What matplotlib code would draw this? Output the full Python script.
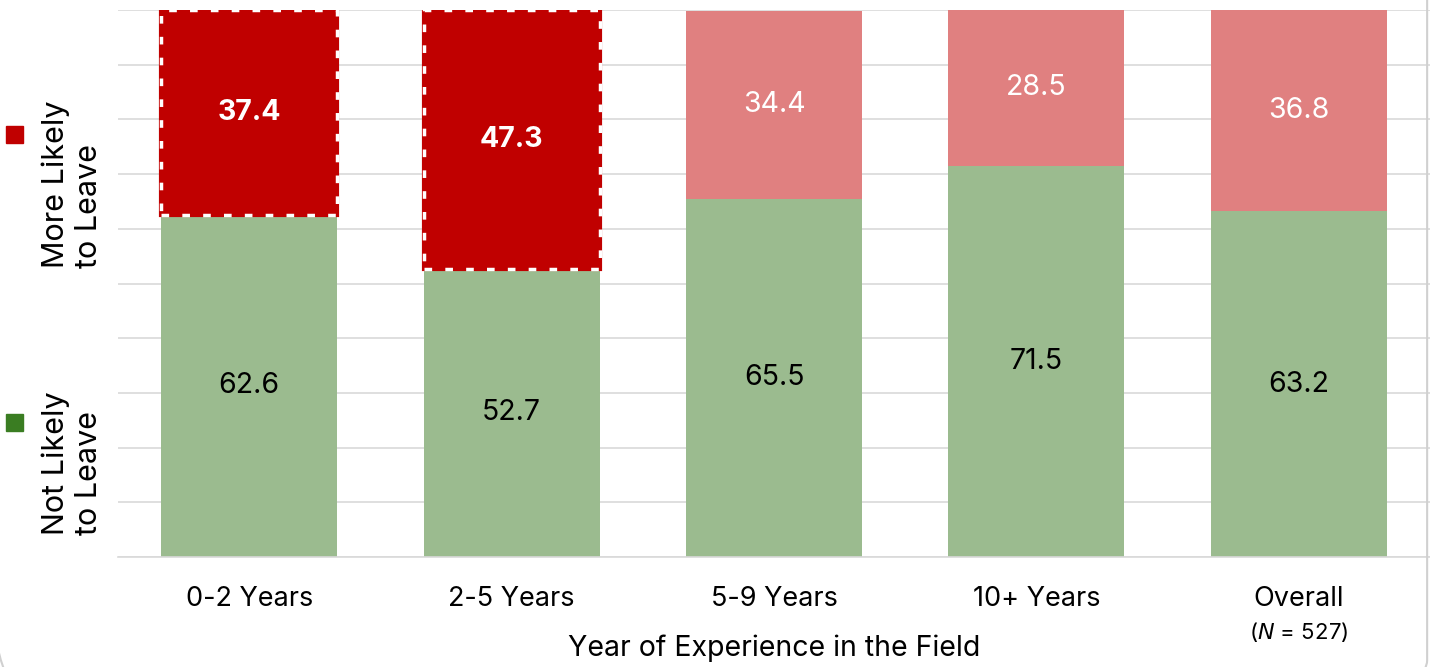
import numpy as np
import matplotlib.pyplot as plt
from matplotlib.patches import FancyBboxPatch, Rectangle

plt.rcParams['font.family'] = ['Inter', 'DejaVu Sans']

# data
groups = ['0-2 Years', '2-5 Years', '5-9 Years', '10+ Years', 'Overall']
not_likely = [62.6, 52.7, 65.5, 71.5, 63.2]
more_likely = [37.4, 47.3, 34.4, 28.5, 36.8]
highlight = [True, True, False, False, False]

green = '#9BBB8F'
red_dark = '#C00000'
red_light = '#E08080'

fig = plt.figure(figsize=(14.3, 6.67), dpi=100)
ax = fig.add_axes([118/1430, 1 - 557/667, 1 - 118/1430, 547/667])

x = np.arange(len(groups))
w = 0.67
ax.bar(x, not_likely, w, color=green, zorder=2)
for i in range(len(groups)):
    if highlight[i]:
        ax.bar(x[i], more_likely[i], w, bottom=not_likely[i], color=red_dark,
               edgecolor=red_dark, linewidth=3, zorder=3)
        ax.bar(x[i], more_likely[i], w, bottom=not_likely[i], fill=False,
               edgecolor='white', linewidth=2.5, linestyle=(0, (2.2, 3.8)), zorder=4)
    else:
        ax.bar(x[i], more_likely[i], w, bottom=not_likely[i], color=red_light, zorder=2)

# value labels
for i in range(len(groups)):
    ax.text(x[i], not_likely[i] / 2, f'{not_likely[i]:.1f}', ha='center', va='center',
            fontsize=20.5, color='black', zorder=5)
    ax.text(x[i], not_likely[i] + more_likely[i] / 2, f'{more_likely[i]:.1f}',
            ha='center', va='center', fontsize=20.5, color='white',
            fontweight='bold' if highlight[i] else 'normal', zorder=5)

ax.set_xlim(-0.5, 4.5)
ax.set_ylim(0, 100)
ax.set_yticks(np.arange(0, 101, 10))
ax.yaxis.grid(True, color='#D9D9D9', linewidth=1.2, zorder=0)
ax.set_axisbelow(True)
ax.tick_params(axis='y', left=False, labelleft=False)
ax.tick_params(axis='x', length=0, labelsize=19.5, pad=21)
ax.set_xticks(x)
ax.set_xticklabels(groups)
for s in ['top', 'right', 'left']:
    ax.spines[s].set_visible(False)
ax.spines['bottom'].set_color('#D9D9D9')
ax.spines['bottom'].set_linewidth(1.2)

ax.text(x[-1], (557 - 632) / 547, '($N$ = 527)', transform=ax.get_xaxis_transform(),
        ha='center', va='center', fontsize=16)
ax.text(0.5 * (x[0] + x[-1]), (557 - 648) / 547, 'Year of Experience in the Field',
        transform=ax.get_xaxis_transform(), ha='center', va='center', fontsize=20.5)

# left legend
fig.add_artist(Rectangle((6/1430, 1 - 143/667), 17/1430, 17/667,
                         transform=fig.transFigure, color=red_dark))
fig.add_artist(Rectangle((6/1430, 1 - 431/667), 17/1430, 17/667,
                         transform=fig.transFigure, color='#3A7D22'))
fig.text(72/1430, 1 - 268/667, 'More Likely\nto Leave', rotation=90,
         ha='center', va='bottom', multialignment='left', fontsize=22, linespacing=1.25)
fig.text(72/1430, 1 - 535/667, 'Not Likely\nto Leave', rotation=90,
         ha='center', va='bottom', multialignment='left', fontsize=22, linespacing=1.25)

# rounded outer frame
fig.add_artist(FancyBboxPatch((-0.02, -0.02), 1.018, 1.06,
                              boxstyle='round,pad=0,rounding_size=0.03',
                              transform=fig.transFigure, fill=False,
                              edgecolor='#D0D0D0', linewidth=1.5))

plt.savefig('out.png', dpi=100)
